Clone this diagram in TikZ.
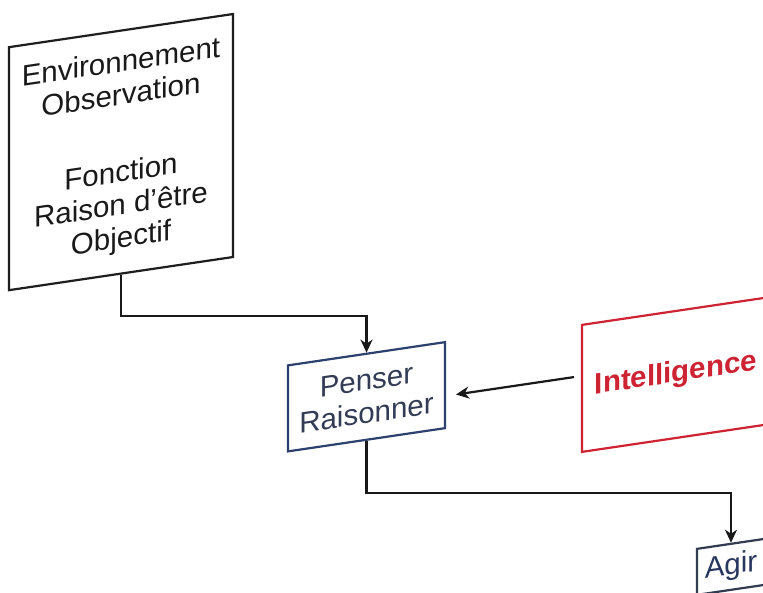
\documentclass[tikz,border=0pt]{standalone}
\usepackage{fontspec}
\setmainfont{Liberation Sans}
\usetikzlibrary{arrows.meta}
\definecolor{envline}{RGB}{30,30,30}
\definecolor{envtext}{RGB}{25,25,25}
\definecolor{penline}{RGB}{45,65,110}
\definecolor{pentext}{RGB}{50,60,85}
\definecolor{intred}{RGB}{205,35,50}
\definecolor{agirline}{RGB}{50,60,80}
\definecolor{agirtext}{RGB}{40,55,95}
\definecolor{connc}{RGB}{25,25,25}
\begin{document}
\begin{tikzpicture}[x=1pt,y=1pt,
  box/.style={draw, line width=2.2pt, rectangle, inner sep=0pt, align=center,
    font=\fontsize{29.5}{33}\selectfont},
  conn/.style={draw=connc, line width=2.2pt, -{Stealth[length=13pt,width=12pt,inset=4pt]}}]
\clip (0,0) rectangle (763,-592);
\fill[white] (0,0) rectangle (763,-592);
\begin{scope}[yslant=0.148, transform shape]
  \node[box, draw=envline, text=envtext, minimum width=224pt, minimum height=243pt] (env) at (121,-170)
    {Environnement\\Observation\\[44pt]Fonction\\Raison d'être\\Objectif};
  \node[box, draw=penline, text=pentext, minimum width=157pt, minimum height=86pt] (pen) at (366.5,-451)
    {Penser\\Raisonner};
  \node[box, draw=intred, text=intred, minimum width=188pt, minimum height=127pt,
    font=\fontsize{29.5}{33}\selectfont\bfseries] (intel) at (676,-474.5) {Intelligence};
  \node[box, draw=agirline, text=agirtext, minimum width=68pt, minimum height=46pt] (agir) at (731,-675)
    {Agir};
\end{scope}
\draw[conn] (env.south) -- ++(0,-41) -| (pen.north);
\draw[conn] (pen.south) -- ++(0,-52) -| (agir.north);
\draw[conn, shorten <=7pt, shorten >=10pt] ([yshift=12.5pt]intel.west) -- ([yshift=-11pt]pen.east);
\end{tikzpicture}
\end{document}
